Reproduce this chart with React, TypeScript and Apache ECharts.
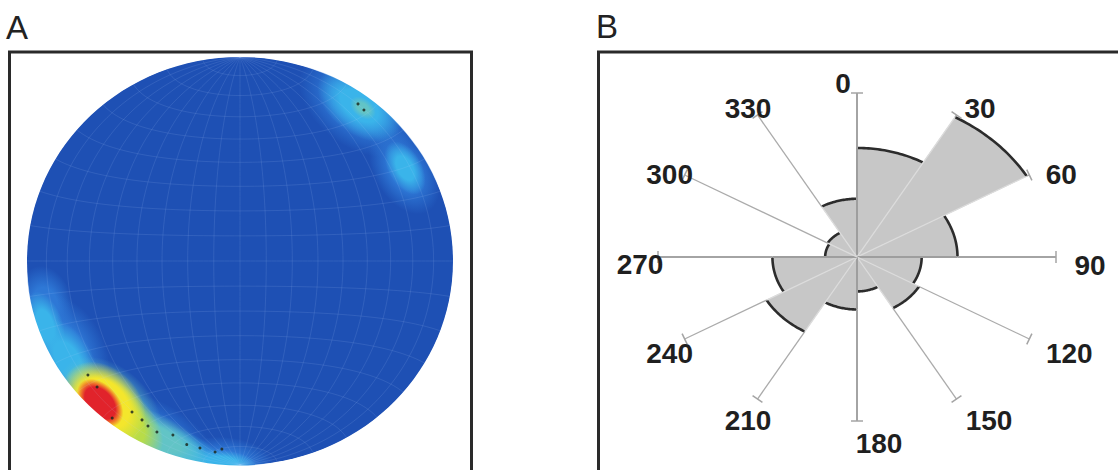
import React, { useEffect, useRef } from "react";
import * as echarts from "echarts";

// ---------------- Panel B : rose diagram data ----------------
const ROSE_BIN_STARTS = [0, 30, 60, 90, 120, 150, 180, 210, 240, 270, 300, 330];
const ROSE_BIN_WIDTH = 30;
const ROSE_VALUES = [66.5, 98.5, 50.5, 32.5, 36, 21, 32, 52.5, 42.5, 16, 17, 35.5];
const ROSE_AXIS_MAX = 100;
const ROSE_AXIS_ANGLES = [0, 30, 60, 90, 120, 150, 180, 210, 240, 270, 300, 330];
const ROSE_AXIS_LABELS = ["0", "30", "60", "90", "120", "150", "180", "210", "240", "270", "300", "330"];

// ---------------- Panel A : stereonet data ----------------
const NET_MERIDIANS = [-80, -70, -60, -50, -40, -30, -20, -10, 0, 10, 20, 30, 40, 50, 60, 70, 80];
const NET_PARALLELS = [-80, -70, -60, -50, -40, -30, -20, -10, 0, 10, 20, 30, 40, 50, 60, 70, 80];

// projected pole positions (unit net radius)
const POLE_X = [-0.714, -0.671, -0.507, -0.46, -0.432, -0.39, -0.315, -0.188, -0.117, -0.085, 0.554, 0.582, -0.6, -0.25];
const POLE_Y = [-0.559, -0.618, -0.74, -0.779, -0.809, -0.838, -0.853, -0.917, -0.936, -0.922, 0.77, 0.74, -0.77, -0.9];

// density concentrations (centre, extents in net radii, tilt, level)
const BLOB_X = [-0.915, -0.822, -0.423, -0.07, 0.554, 0.772, -0.915, -0.808, -0.305, -0.085, 0.56, 0.775, -0.61, -0.39, 0.577, -0.58, -0.64, -0.657];
const BLOB_Y = [-0.216, -0.436, -0.877, -0.985, 0.765, 0.446, -0.314, -0.485, -0.926, -0.985, 0.762, 0.456, -0.73, -0.865, 0.75, -0.77, -0.7, -0.696];
const BLOB_RX = [0.19, 0.286, 0.357, 0.238, 0.32, 0.23, 0.167, 0.214, 0.262, 0.167, 0.23, 0.14, 0.3, 0.27, 0.07, 0.27, 0.23, 0.135];
const BLOB_RY = [0.133, 0.19, 0.19, 0.119, 0.2, 0.145, 0.086, 0.119, 0.105, 0.057, 0.135, 0.08, 0.2, 0.11, 0.045, 0.15, 0.17, 0.088];
const BLOB_ROT = [-78, -62, -28, -5, -37, -60, -72, -60, -22, -5, -37, -60, -45, -27, -37, -42, -45, -48];
const BLOB_LEVEL = [0, 0, 0, 0, 0, 0, 1, 1, 1, 1, 1, 1, 2, 2, 2, 3, 4, 5];

const PANEL_LABELS = ["A", "B"];

// ---------------- styles ----------------
const DISC_BLUE = "#1e50b4";
const DENSITY_COLORS = ["#2e78d6", "#3ab4ea", "#62c4c6", "#b8dc48", "#f4e62c", "#e1232b"];
const FONT = '"Liberation Sans", Arial, Helvetica, sans-serif';
const LABEL_OFFSETS: Record<number, [number, number]> = {
  0: [-14, -10],
  30: [23.5, -6],
  60: [32, -1],
  90: [34, 8],
  120: [40, 14],
  150: [32.5, 21],
  180: [22, 22],
  210: [-9.5, 21],
  240: [-15, 14],
  270: [-18, 7.5],
  300: [-15, -1],
  330: [-9.5, -6],
};

function hexToRgba(hex: string, a: number) {
  const h = hex.replace("#", "");
  const r = parseInt(h.slice(0, 2), 16);
  const g = parseInt(h.slice(2, 4), 16);
  const b = parseInt(h.slice(4, 6), 16);
  return `rgba(${r},${g},${b},${a})`;
}

// Lambert equal-area (Schmidt) equatorial projection, unit primitive radius
function schmidt(lonDeg: number, latDeg: number): [number, number] {
  const l = (lonDeg * Math.PI) / 180;
  const p = (latDeg * Math.PI) / 180;
  const k = Math.sqrt(2 / (1 + Math.cos(p) * Math.cos(l)));
  return [(k * Math.cos(p) * Math.sin(l)) / Math.SQRT2, (k * Math.sin(p)) / Math.SQRT2];
}

export default function App() {
  const ref = useRef<HTMLDivElement>(null);

  useEffect(() => {
    if (!ref.current) return;
    const chart = echarts.init(ref.current, null, { renderer: "svg" });

    const blobData = BLOB_X.map((x, i) => [x, BLOB_Y[i], BLOB_RX[i], BLOB_RY[i], BLOB_ROT[i], BLOB_LEVEL[i]]);
    const netData = [
      ...NET_MERIDIANS.map((a) => [0, a]),
      ...NET_PARALLELS.map((a) => [1, a]),
    ];
    const poleData = POLE_X.map((x, i) => [x, POLE_Y[i]]);
    const roseData = ROSE_BIN_STARTS.map((s, i) => [s, ROSE_BIN_WIDTH, ROSE_VALUES[i]]);
    const axisData = ROSE_AXIS_ANGLES.map((a, i) => [a, i]);

    const option: any = {
      animation: false,
      backgroundColor: "#ffffff",
      grid: [
        { left: 27, top: 57, width: 426, height: 408 },
        { left: 658, top: 93, width: 398, height: 328 },
      ],
      xAxis: [
        { type: "value", gridIndex: 0, min: -1, max: 1, show: false },
        { type: "value", gridIndex: 1, min: -1, max: 1, show: false },
      ],
      yAxis: [
        { type: "value", gridIndex: 0, min: -1, max: 1, show: false },
        { type: "value", gridIndex: 1, min: -1, max: 1, show: false },
      ],
      series: [
        // stereonet disc
        {
          type: "custom",
          xAxisIndex: 0,
          yAxisIndex: 0,
          z: 1,
          silent: true,
          data: [[0, 0]],
          renderItem: (_p: any, api: any) => {
            const c = api.coord([0, 0]);
            const s = api.size([1, 1]);
            return {
              type: "ellipse",
              shape: { cx: c[0], cy: c[1], rx: s[0], ry: s[1] },
              style: { fill: DISC_BLUE },
            };
          },
        },
        // density concentrations
        {
          type: "custom",
          xAxisIndex: 0,
          yAxisIndex: 0,
          z: 2,
          silent: true,
          data: blobData,
          renderItem: (_p: any, api: any) => {
            const c = api.coord([api.value(0), api.value(1)]);
            const s = api.size([1, 1]);
            const u = (s[0] + s[1]) / 2;
            const level = api.value(5);
            const col = DENSITY_COLORS[level];
            let stops;
            if (level === 5) {
              stops = [
                { offset: 0, color: col },
                { offset: 0.66, color: col },
                { offset: 0.82, color: "#ef7a2a" },
                { offset: 1, color: "rgba(239,122,42,0)" },
              ];
            } else if (level >= 3) {
              stops = [
                { offset: 0, color: col },
                { offset: 0.6, color: col },
                { offset: 1, color: hexToRgba(col, 0) },
              ];
            } else {
              stops = [
                { offset: 0, color: col },
                { offset: 0.45, color: col },
                { offset: 1, color: hexToRgba(col, 0) },
              ];
            }
            return {
              type: "ellipse",
              x: c[0],
              y: c[1],
              rotation: (api.value(4) * Math.PI) / 180,
              shape: { cx: 0, cy: 0, rx: api.value(2) * u, ry: api.value(3) * u },
              style: { fill: new echarts.graphic.RadialGradient(0.5, 0.5, 0.5, stops) },
            };
          },
        },
        // net lines
        {
          type: "custom",
          xAxisIndex: 0,
          yAxisIndex: 0,
          z: 3,
          silent: true,
          data: netData,
          renderItem: (_p: any, api: any) => {
            const kind = api.value(0);
            const a = api.value(1);
            const pts: number[][] = [];
            for (let t = -90; t <= 90; t += 2) {
              const xy = kind === 0 ? schmidt(a, t) : schmidt(t, a);
              pts.push(api.coord(xy));
            }
            return {
              type: "polyline",
              shape: { points: pts },
              style: { fill: "none", stroke: "rgba(190,215,255,0.12)", lineWidth: 1 },
            };
          },
        },
        // poles
        {
          type: "scatter",
          xAxisIndex: 0,
          yAxisIndex: 0,
          z: 4,
          silent: true,
          symbolSize: 3,
          itemStyle: { color: "#1d2a20", opacity: 0.85 },
          data: poleData,
        },
        // white mask outside the primitive circle
        {
          type: "custom",
          xAxisIndex: 0,
          yAxisIndex: 0,
          z: 5,
          silent: true,
          data: [[0, 0]],
          renderItem: (_p: any, api: any) => {
            const c = api.coord([0, 0]);
            const s = api.size([1, 1]);
            return {
              type: "ellipse",
              shape: { cx: c[0], cy: c[1], rx: s[0] + 20.5, ry: s[1] + 20.5 },
              style: { fill: "none", stroke: "#ffffff", lineWidth: 40 },
            };
          },
        },
        // rose petals
        {
          type: "custom",
          xAxisIndex: 1,
          yAxisIndex: 1,
          z: 2,
          silent: true,
          data: roseData,
          renderItem: (_p: any, api: any) => {
            const start = api.value(0);
            const width = api.value(1);
            const r = api.value(2) / ROSE_AXIS_MAX;
            const pts: number[][] = [];
            for (let a = start; a <= start + width + 1e-6; a += 1) {
              const t = (a * Math.PI) / 180;
              pts.push(api.coord([r * Math.sin(t), r * Math.cos(t)]));
            }
            const c = api.coord([0, 0]);
            return {
              type: "group",
              children: [
                {
                  type: "polygon",
                  shape: { points: [c, ...pts] },
                  style: { fill: "#c7c7c7", stroke: "#c7c7c7", lineWidth: 0.6 },
                },
                {
                  type: "polyline",
                  shape: { points: pts },
                  style: { fill: "none", stroke: "#2c2c2c", lineWidth: 2.6 },
                },
              ],
            };
          },
        },
        // rose radial axes + labels
        {
          type: "custom",
          xAxisIndex: 1,
          yAxisIndex: 1,
          z: 3,
          silent: true,
          data: axisData,
          renderItem: (_p: any, api: any) => {
            const a = api.value(0);
            const i = api.value(1);
            const t = (a * Math.PI) / 180;
            const c = api.coord([0, 0]);
            const e = api.coord([Math.sin(t), Math.cos(t)]);
            const isMain = a % 90 === 0;
            const bi = ROSE_BIN_STARTS.indexOf(a);
            const prev = (bi + ROSE_BIN_STARTS.length - 1) % ROSE_BIN_STARTS.length;
            const rIn = Math.max(ROSE_VALUES[bi], ROSE_VALUES[prev]) / ROSE_AXIS_MAX;
            const m = api.coord([rIn * Math.sin(t), rIn * Math.cos(t)]);
            const dx = e[0] - c[0];
            const dy = e[1] - c[1];
            const L = Math.hypot(dx, dy);
            const px = (-dy / L) * 6;
            const py = (dx / L) * 6;
            const lw = isMain ? 2 : 1.3;
            const off = LABEL_OFFSETS[a] || [0, 0];
            return {
              type: "group",
              children: [
                {
                  type: "line",
                  shape: { x1: c[0], y1: c[1], x2: m[0], y2: m[1] },
                  style: { stroke: isMain ? "#9e9e9e" : "#dcdcdc", lineWidth: lw },
                },
                {
                  type: "line",
                  shape: { x1: m[0], y1: m[1], x2: e[0], y2: e[1] },
                  style: { stroke: isMain ? "#a4a4a4" : "#ababab", lineWidth: lw },
                },
                {
                  type: "line",
                  shape: { x1: e[0] - px, y1: e[1] - py, x2: e[0] + px, y2: e[1] + py },
                  style: { stroke: "#a4a4a4", lineWidth: 1.5 },
                },
                {
                  type: "text",
                  x: e[0] + off[0],
                  y: e[1] + off[1],
                  z2: 10,
                  style: {
                    text: ROSE_AXIS_LABELS[i],
                    fill: "#1f1f1f",
                    font: `bold 28px ${FONT}`,
                    align: "center",
                    verticalAlign: "middle",
                    textAlign: "center",
                    textVerticalAlign: "middle",
                  },
                },
              ],
            };
          },
        },
      ],
      graphic: [
        {
          type: "rect",
          z: 100,
          silent: true,
          shape: { x: 9.5, y: 52, width: 462, height: 470 },
          style: { fill: "none", stroke: "#2a2a2a", lineWidth: 3 },
        },
        {
          type: "rect",
          z: 100,
          silent: true,
          shape: { x: 598.5, y: 52, width: 580, height: 470 },
          style: { fill: "none", stroke: "#2a2a2a", lineWidth: 3 },
        },
        {
          type: "text",
          z: 100,
          x: 6,
          y: 27,
          style: {
            text: PANEL_LABELS[0],
            fill: "#222222",
            font: `normal 33px ${FONT}`,
            align: "left",
            verticalAlign: "middle",
            textAlign: "left",
            textVerticalAlign: "middle",
          },
        },
        {
          type: "text",
          z: 100,
          x: 596,
          y: 26,
          style: {
            text: PANEL_LABELS[1],
            fill: "#222222",
            font: `normal 33px ${FONT}`,
            align: "left",
            verticalAlign: "middle",
            textAlign: "left",
            textVerticalAlign: "middle",
          },
        },
      ],
    };

    chart.setOption(option);
    return () => {
      chart.dispose();
    };
  }, []);

  return (
    <div
      ref={ref}
      style={{ position: "absolute", left: 0, top: 0, width: 1118, height: 470 }}
    />
  );
}
